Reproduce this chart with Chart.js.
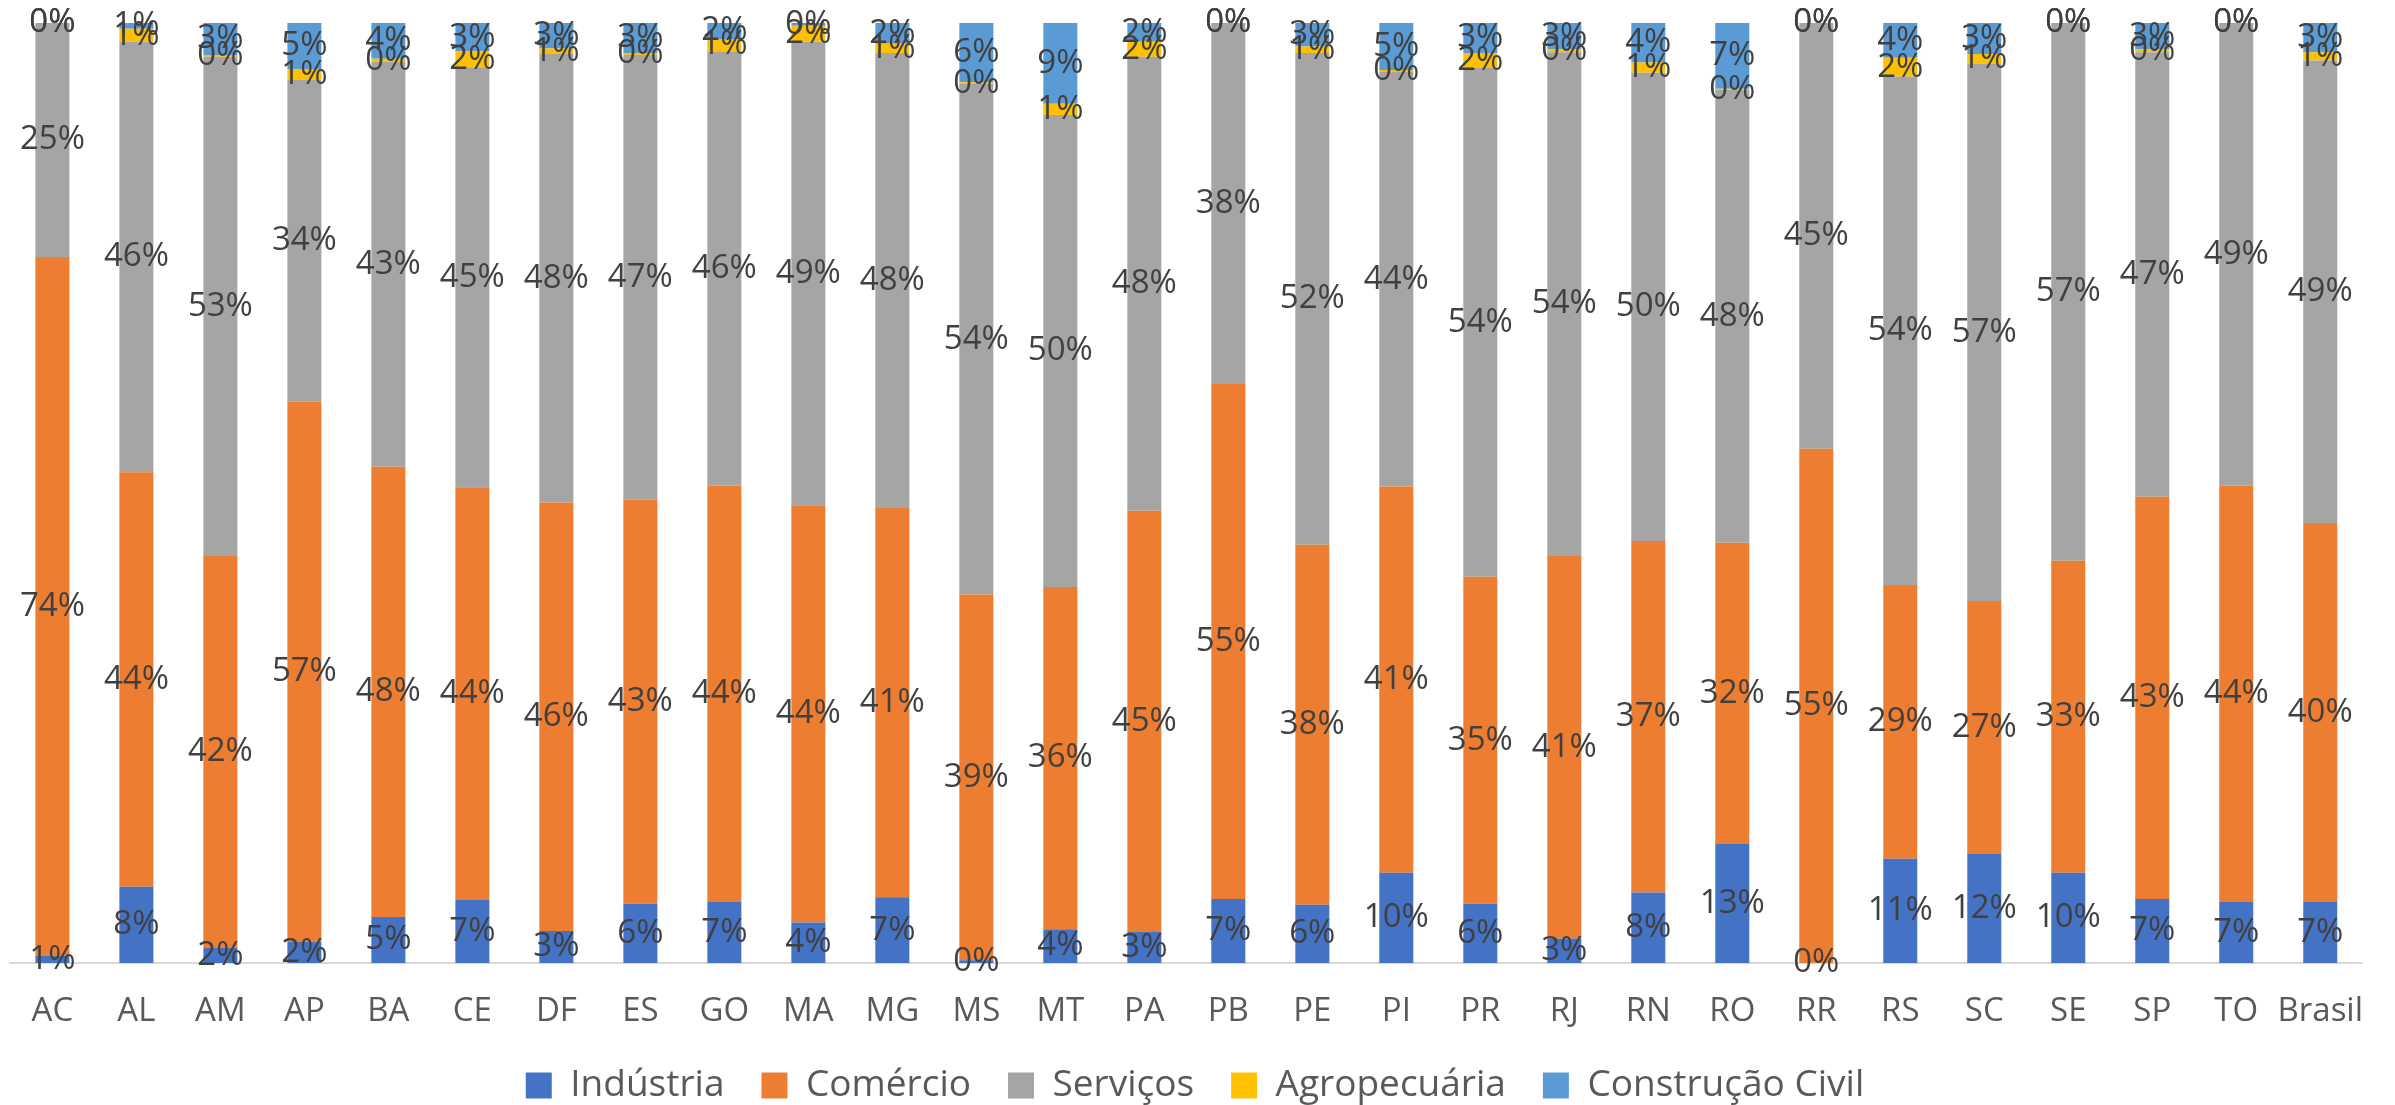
<!DOCTYPE html>
<html>

<head>
    <script src="https://cdn.jsdelivr.net/npm/chart.js@4.4.1/dist/chart.umd.min.js"></script>
    <style>
        body { margin: 0; background: #fff; }
    </style>
</head>

<body>
    <canvas id="myChart" width="2395" height="1105"></canvas>
</body>

<script>

    // categorias (UFs + Brasil)
    const categorias = ['AC', 'AL', 'AM', 'AP', 'BA', 'CE', 'DF', 'ES', 'GO', 'MA', 'MG', 'MS', 'MT', 'PA',
        'PB', 'PE', 'PI', 'PR', 'RJ', 'RN', 'RO', 'RR', 'RS', 'SC', 'SE', 'SP', 'TO', 'Brasil']

    // participação (%) por setor
    const industria = [0.8, 8.1, 1.6, 2.3, 4.9, 6.7, 3.4, 6.3, 6.5, 4.3, 7.0, 0.3, 3.6, 3.3,
        6.8, 6.2, 9.6, 6.3, 2.6, 7.5, 12.7, 0.0, 11.1, 11.6, 9.6, 6.8, 6.5, 6.5]
    const comercio = [74.3, 44.1, 41.7, 57.4, 47.9, 43.9, 45.6, 43.0, 44.3, 44.4, 41.4, 38.9, 36.4, 44.8,
        54.8, 38.3, 41.1, 34.8, 40.7, 37.4, 32.0, 54.7, 29.1, 26.9, 33.2, 42.8, 44.3, 40.3]
    const servicos = [24.9, 45.8, 53.1, 34.3, 43.1, 44.7, 47.7, 47.3, 46.2, 49.3, 48.4, 54.3, 50.2, 48.3,
        38.4, 52.3, 44.1, 54.1, 53.6, 49.8, 48.2, 45.3, 54.1, 57.2, 57.2, 47.3, 49.2, 49.2]
    const agropecuaria = [0, 1.4, 0.2, 1.1, 0.3, 1.7, 0.6, 0.2, 1.3, 1.7, 1.0, 0.2, 1.2, 1.6,
        0, 0.7, 0.2, 1.6, 0.3, 1.1, 0.1, 0, 2.0, 1.0, 0, 0.3, 0, 0.9]
    const construcao = [0, 0.6, 3.4, 4.9, 3.8, 3.0, 2.7, 3.2, 1.7, 0.3, 2.2, 6.3, 8.6, 2.0,
        0, 2.5, 5.0, 3.2, 2.8, 4.2, 7.0, 0, 3.7, 3.3, 0, 2.8, 0, 3.1]

    const fonte = '"Open Sans", sans-serif'

    // rótulos de porcentagem no meio de cada segmento
    const rotulos = {
        id: 'rotulos',
        afterDatasetsDraw(chart) {
            const ctx = chart.ctx
            ctx.save()
            ctx.font = '33px ' + fonte
            ctx.fillStyle = '#404040'
            ctx.textAlign = 'center'
            ctx.textBaseline = 'middle'
            chart.data.datasets.forEach((ds, i) => {
                const meta = chart.getDatasetMeta(i)
                meta.data.forEach((bar, j) => {
                    const y = (bar.y + bar.base) / 2
                    ctx.fillText(Math.round(ds.data[j]) + '%', bar.x, y)
                })
            })
            ctx.restore()
        }
    }

    const barra = { barPercentage: 0.405, categoryPercentage: 1, borderWidth: 0 }

    const data = {
        labels: categorias,
        datasets: [
            { label: 'Indústria', data: industria, backgroundColor: '#4472C4', ...barra },
            { label: 'Comércio', data: comercio, backgroundColor: '#ED7D31', ...barra },
            { label: 'Serviços', data: servicos, backgroundColor: '#A5A5A5', ...barra },
            { label: 'Agropecuária', data: agropecuaria, backgroundColor: '#FFC000', ...barra },
            { label: 'Construção Civil', data: construcao, backgroundColor: '#5B9BD5', ...barra }
        ]
    }

    const config = {
        type: 'bar',
        data: data,
        options: {
            responsive: false,
            animation: false,
            devicePixelRatio: 1,
            layout: { padding: { top: 23, left: 2, right: 7, bottom: -9 } },
            scales: {
                x: {
                    stacked: true,
                    grid: { display: false, drawTicks: false },
                    border: { color: '#D9D9D9', width: 2 },
                    ticks: {
                        color: '#595959', font: { family: fonte, size: 33, lineHeight: 1 }, padding: 32,
                        minRotation: 0, maxRotation: 0, autoSkip: false
                    },
                    afterFit: (scale) => { scale.height = 67 }
                },
                y: {
                    stacked: true,
                    min: 0,
                    max: 100,
                    display: false
                }
            },
            plugins: {
                tooltip: { enabled: false },
                legend: {
                    position: 'bottom',
                    labels: {
                        color: '#595959',
                        font: { family: fonte, size: 37 },
                        boxWidth: 26,
                        boxHeight: 26,
                        padding: 37
                    }
                }
            }
        },
        plugins: [rotulos]
    }

    const myChart = new Chart(document.getElementById('myChart'), config)

</script>

</html>
